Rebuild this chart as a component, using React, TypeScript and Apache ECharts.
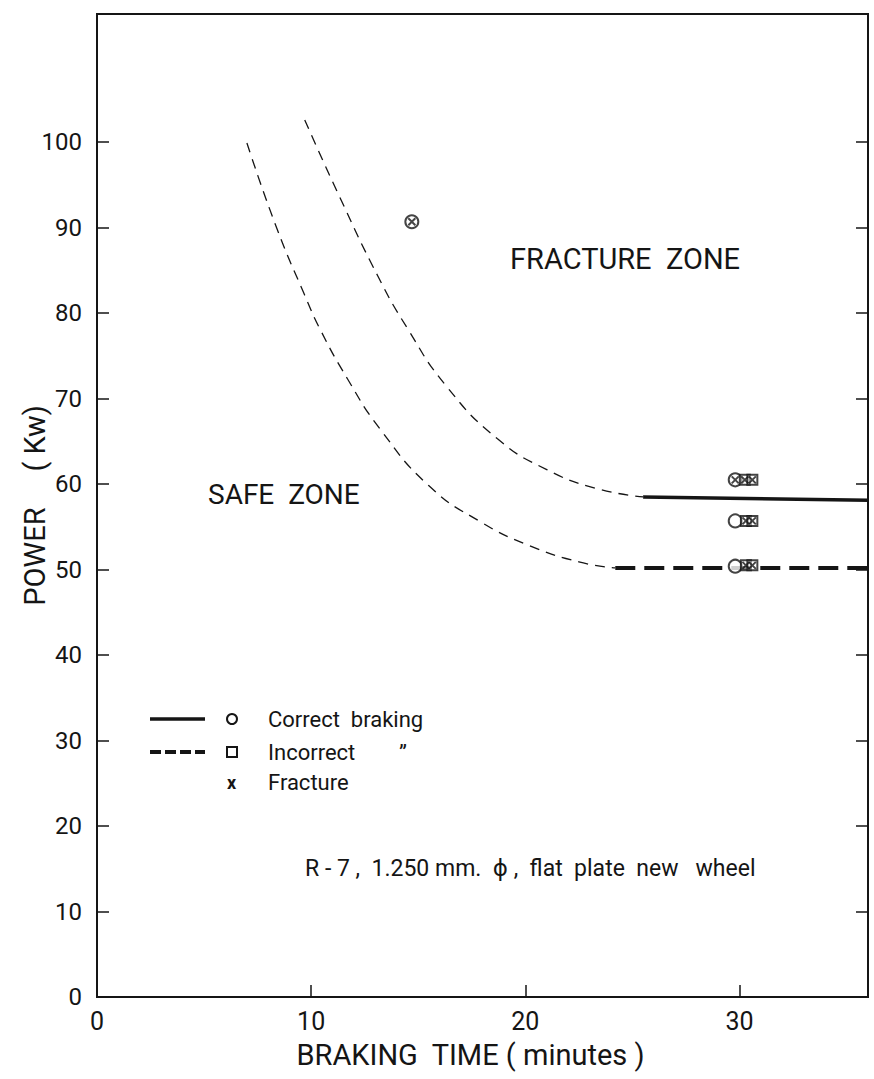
import React, { useEffect, useRef } from "react";
import * as echarts from "echarts";

const xTickValues = [0, 10, 20, 30];
const yTickValues = [0, 10, 20, 30, 40, 50, 60, 70, 80, 90, 100];

// Boundary curve for correct braking (dashed part) and its solid limit line
const correctCurve = [
  [9.7, 102.6], [11.2, 94.3], [13.1, 84.4], [14.5, 78.2], [16.3, 71.5],
  [18.7, 65.3], [21.0, 61.7], [23.3, 59.5], [25.5, 58.5],
];
const correctLimit = [[25.5, 58.5], [36, 58.1]];

// Boundary curve for incorrect braking (dashed part) and its dashed limit line
const incorrectCurve = [
  [7.0, 99.9], [8.4, 89.9], [9.7, 82.1], [10.4, 78.2], [11.7, 72.3],
  [13.2, 66.5], [15.5, 59.8], [17.9, 55.6], [20.2, 52.8], [22.5, 50.9], [24.2, 50.2],
];
const incorrectLimit = [[24.2, 50.2], [36, 50.2]];

// Test points
const correctPoints = [[14.7, 90.7], [29.8, 60.5], [29.8, 55.7], [29.8, 50.4]];
const incorrectPoints = [
  [30.25, 60.5], [30.6, 60.5], [30.3, 55.7], [30.6, 55.7], [30.3, 50.5], [30.6, 50.5],
];
const fracturePoints = [
  [14.7, 90.7], [29.8, 60.5],
  [30.25, 60.5], [30.6, 60.5], [30.3, 55.7], [30.6, 55.7], [30.3, 50.5], [30.6, 50.5],
];

const FONT = "Roboto, 'DejaVu Sans'";
const INK = "#151515";

export default function App() {
  const ref = useRef<HTMLDivElement>(null);
  useEffect(() => {
    if (!ref.current) return;
    const chart = echarts.init(ref.current, null, { renderer: "svg" });
    const legendText = { fill: INK, fontSize: 22, fontFamily: FONT, textVerticalAlign: "middle" };
    chart.setOption({
      animation: false,
      backgroundColor: "#ffffff",
      grid: {
        left: 97, right: 6, top: 14, bottom: 82,
        outerBoundsMode: "none", containLabel: false,
        show: true, borderColor: INK, borderWidth: 2,
      },
      xAxis: {
        type: "value", min: 0, max: 36, interval: 10,
        name: "BRAKING  TIME ( minutes )",
        nameLocation: "middle", nameGap: 43, nameMoveOverlap: false,
        nameTextStyle: { color: INK, fontSize: 29, fontFamily: FONT, padding: [0, 24, 0, 0] },
        axisLine: { show: true, lineStyle: { color: INK, width: 2 } },
        axisTick: { show: true, inside: true, length: 12, customValues: [10, 20, 30], lineStyle: { color: INK, width: 1.5 } },
        axisLabel: { customValues: xTickValues, color: INK, fontSize: 25, fontFamily: FONT, margin: 12 },
        splitLine: { show: false },
      },
      yAxis: [
        {
          type: "value", min: 0, max: 115, interval: 10,
          name: "POWER     ( Kw)",
          nameLocation: "middle", nameGap: 48, nameRotate: 90, nameMoveOverlap: false,
          nameTextStyle: { color: INK, fontSize: 29, fontFamily: FONT },
          axisLine: { show: true, lineStyle: { color: INK, width: 2 } },
          axisTick: { show: true, inside: true, length: 12, customValues: yTickValues, lineStyle: { color: INK, width: 1.5 } },
          axisLabel: { customValues: yTickValues, color: INK, fontSize: 24, fontFamily: FONT, margin: 15 },
          splitLine: { show: false },
        },
        {
          type: "value", min: 0, max: 115, interval: 10, position: "right",
          axisLine: { show: true, lineStyle: { color: INK, width: 2 } },
          axisTick: { show: true, inside: true, length: 12, customValues: yTickValues.slice(1), lineStyle: { color: INK, width: 1.5 } },
          axisLabel: { show: false },
          splitLine: { show: false },
        },
      ],
      series: [
        {
          type: "line", data: correctCurve, smooth: 0.5, symbol: "none",
          lineStyle: { color: INK, width: 1.3, type: [10, 7] },
        },
        {
          type: "line", data: correctLimit, symbol: "none",
          lineStyle: { color: INK, width: 3.5 },
        },
        {
          type: "line", data: incorrectCurve, smooth: 0.5, symbol: "none",
          lineStyle: { color: INK, width: 1.3, type: [10, 7] },
        },
        {
          type: "line", data: incorrectLimit, symbol: "none",
          lineStyle: { color: INK, width: 4, type: [20, 9] },
        },
        {
          type: "scatter", data: correctPoints, symbol: "circle", symbolSize: 13,
          itemStyle: { color: "#ffffff", borderColor: INK, borderWidth: 2 },
          z: 5,
        },
        {
          type: "scatter", data: incorrectPoints, symbol: "rect", symbolSize: 10,
          itemStyle: { color: "rgba(255,255,255,0.6)", borderColor: INK, borderWidth: 2 },
          z: 5,
        },
        {
          type: "scatter", data: fracturePoints, symbol: "path://M0 0L10 10M10 0L0 10", symbolSize: 7,
          itemStyle: { color: "none", borderColor: INK, borderWidth: 2 },
          z: 6,
        },
      ],
      graphic: [
        { type: "text", x: 510, y: 259, style: { text: "FRACTURE  ZONE", fill: INK, fontSize: 29, fontFamily: FONT, textVerticalAlign: "middle" } },
        { type: "text", x: 208, y: 494, style: { text: "SAFE  ZONE", fill: INK, fontSize: 28, fontFamily: FONT, textVerticalAlign: "middle" } },
        { type: "text", x: 305, y: 868, style: { text: "R - 7 ,  1.250 mm.  ϕ ,  flat  plate  new   wheel", fill: INK, fontSize: 23, fontFamily: FONT, textVerticalAlign: "middle" } },
        // legend
        { type: "line", shape: { x1: 150, y1: 719, x2: 205, y2: 719 }, style: { stroke: INK, lineWidth: 3.5 } },
        { type: "circle", shape: { cx: 232, cy: 719, r: 5 }, style: { fill: "#fff", stroke: INK, lineWidth: 2 } },
        { type: "text", x: 268, y: 719, style: { text: "Correct  braking", ...legendText } },
        { type: "line", shape: { x1: 150, y1: 752, x2: 205, y2: 752 }, style: { stroke: INK, lineWidth: 4, lineDash: [11, 4] } },
        { type: "rect", shape: { x: 227, y: 747, width: 10, height: 10 }, style: { fill: "#fff", stroke: INK, lineWidth: 2 } },
        { type: "text", x: 268, y: 752, style: { text: "Incorrect        \u201D", ...legendText } },
        { type: "text", x: 227, y: 782, style: { text: "x", fill: INK, fontSize: 18, fontWeight: "bold", fontFamily: FONT, textVerticalAlign: "middle" } },
        { type: "text", x: 268, y: 782, style: { text: "Fracture", ...legendText } },
      ],
    });
    return () => chart.dispose();
  }, []);
  return (
    <div
      ref={ref}
      style={{ position: "absolute", left: 0, top: 0, width: 874, height: 1079 }}
    />
  );
}
